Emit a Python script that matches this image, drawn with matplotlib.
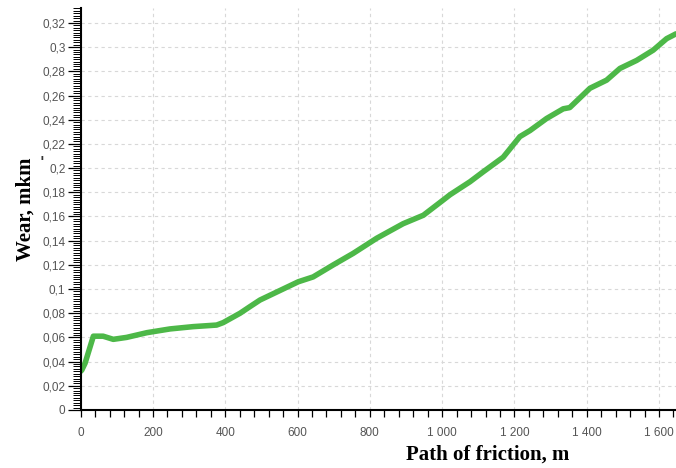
import matplotlib.pyplot as plt
from matplotlib.ticker import MultipleLocator, FuncFormatter

# path of friction, m
path = [0, 3, 12, 35, 62, 90, 127, 183, 247, 311, 376, 394, 441, 468, 496,
        602, 643, 699, 754, 819, 892, 948, 1003, 1022, 1077, 1114, 1169,
        1215, 1243, 1289, 1335, 1353, 1409, 1455, 1492, 1538, 1584, 1621, 1647]
# wear, mkm
wear = [0.032, 0.033, 0.0386, 0.061, 0.061, 0.0584, 0.060, 0.0639, 0.067,
        0.0689, 0.0702, 0.0722, 0.080, 0.0854, 0.0909, 0.106, 0.110, 0.120,
        0.1295, 0.142, 0.154, 0.161, 0.1736, 0.178, 0.1887, 0.197, 0.209,
        0.226, 0.231, 0.241, 0.249, 0.250, 0.266, 0.2727, 0.2824, 0.289,
        0.2975, 0.307, 0.311]


def fmt_y(v, pos):
    s = ('%.2f' % v).rstrip('0').rstrip('.')
    return s.replace('.', ',')


def fmt_x(v, pos):
    return '{:,.0f}'.format(v).replace(',', ' ')


fig = plt.figure(figsize=(6.76, 4.68), dpi=100)
ax = fig.add_axes([0.1194, 0.124, 0.8806, 0.858])

ax.plot(path, wear, color='#4db848', lw=4, solid_capstyle='round')

ax.set_xlim(0, 1647)
ax.set_ylim(0, 0.332)
ax.xaxis.set_major_locator(MultipleLocator(200))
ax.xaxis.set_minor_locator(MultipleLocator(40))
ax.yaxis.set_major_locator(MultipleLocator(0.02))
ax.yaxis.set_minor_locator(MultipleLocator(0.002))
ax.xaxis.set_major_formatter(FuncFormatter(fmt_x))
ax.yaxis.set_major_formatter(FuncFormatter(fmt_y))

for s in ['top', 'right']:
    ax.spines[s].set_visible(False)
for s in ['left', 'bottom']:
    ax.spines[s].set_linewidth(1.5)

ax.tick_params(axis='both', which='major', labelsize=8.5, labelcolor='#555555',
               width=0.9, direction='out')
ax.tick_params(axis='y', which='major', length=9.5, pad=1.5)
ax.tick_params(axis='y', which='minor', length=6, width=0.7)
ax.tick_params(axis='x', which='major', length=5, pad=7)
ax.tick_params(axis='x', which='minor', length=5, width=0.9)
for lab in ax.get_xticklabels() + ax.get_yticklabels():
    lab.set_family('Liberation Sans')

ax.grid(True, which='major', color='#d8d8d8', linestyle=(0, (3, 3)), lw=0.8)
ax.set_axisbelow(True)

ax.set_xlabel('Path of friction, m', family='Liberation Serif', weight='bold',
              fontsize=15, x=0.683, labelpad=4)
ax.set_ylabel('Wear, mkm', family='Liberation Serif', weight='bold',
              fontsize=15, labelpad=5)
fig.text(0.059, 0.642, "'", fontsize=11, color='#333333', weight='bold')

fig.savefig('out.png', dpi=100)
